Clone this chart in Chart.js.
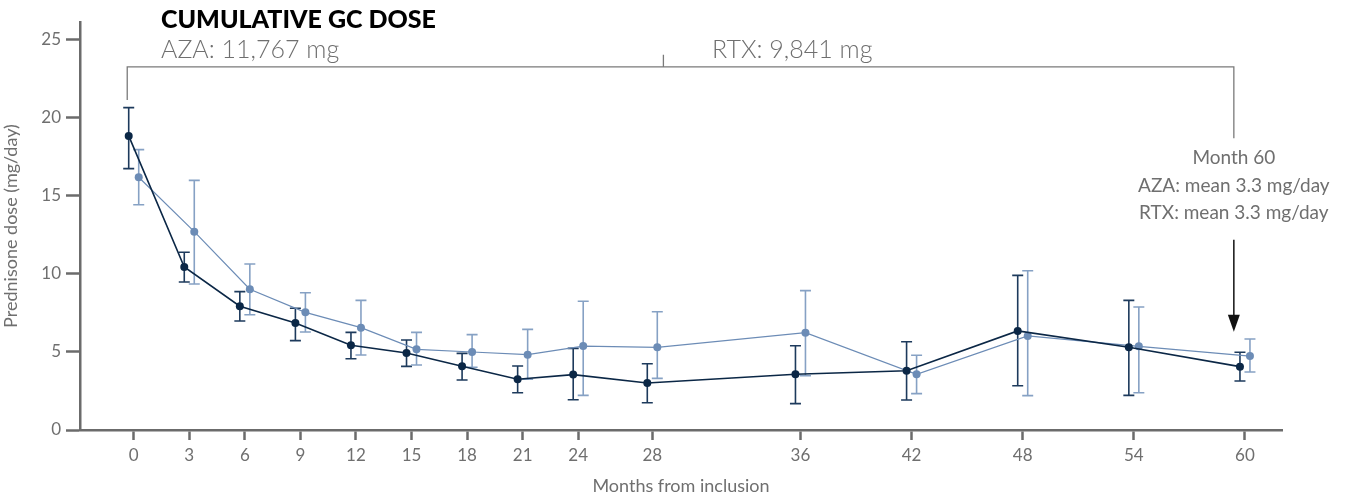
<!DOCTYPE html>
<html>
<head>
<meta charset="utf-8">
<script src="https://cdn.jsdelivr.net/npm/chart.js@4/dist/chart.umd.min.js"></script>
<style>
  html, body { margin: 0; padding: 0; background: #fff; }
  #wrap { width: 1346px; height: 497px; position: relative; }
</style>
</head>
<body>
<div id="wrap"><canvas id="chart"></canvas></div>
<script>
// ── Data ──────────────────────────────────────────────────
const months = [0, 3, 6, 9, 12, 15, 18, 21, 24, 28, 36, 42, 48, 54, 60];

const azaMean = [18.85, 10.45, 7.93, 6.86, 5.43, 4.94, 4.08, 3.25, 3.55, 3.01, 3.57, 3.80, 6.35, 5.30, 4.06];
const azaHigh = [20.66, 11.39, 8.87, 7.80, 6.26, 5.77, 4.91, 4.10, 5.23, 4.25, 5.40, 5.66, 9.91, 8.31, 4.98];
const azaLow  = [16.75, 9.49, 6.99, 5.73, 4.57, 4.08, 3.20, 2.39, 1.94, 1.75, 1.69, 1.92, 2.84, 2.22, 3.14];

const rtxMean = [16.20, 12.71, 9.02, 7.54, 6.56, 5.17, 5.00, 4.83, 5.38, 5.30, 6.24, 3.57, 6.03, 5.36, 4.74];
const rtxHigh = [17.97, 16.00, 10.64, 8.80, 8.31, 6.26, 6.11, 6.45, 8.25, 7.58, 8.93, 4.79, 10.21, 7.88, 5.83];
const rtxLow  = [14.44, 9.36, 7.39, 6.28, 4.81, 4.17, 4.02, 3.25, 2.22, 3.31, 3.48, 2.33, 2.20, 2.39, 3.72];

const xTicks = months;
const yTicks = [0, 5, 10, 15, 20, 25];

const titleText = 'CUMULATIVE GC DOSE';
const azaTotal = 'AZA: 11,767 mg';
const rtxTotal = 'RTX: 9,841 mg';
const noteLines = ['Month 60', 'AZA: mean 3.3 mg/day', 'RTX: mean 3.3 mg/day'];

// ── Styling ───────────────────────────────────────────────
const DODGE = 0.27;           // months, horizontal offset between the two groups
const AXIS = '#6b6b6b';
const TEXT = '#6f6f6f';
const AZA_COLOR = '#0b2746';
const AZA_BAR = '#1d3a5c';
const RTX_COLOR = '#6c8cb6';
const RTX_BAR = '#86a1c4';
const FONT = 'Lato, "Open Sans", sans-serif';

const toPoints = (vals, off) => vals.map((v, i) => ({ x: months[i] + off, y: v }));

// error bars drawn through the chart scales
const errorBars = {
    id: 'errorBars',
    beforeDatasetsDraw(chart) {
        const { ctx, scales: { x, y } } = chart;
        const sets = [
            { lo: azaLow, hi: azaHigh, off: -DODGE, color: AZA_BAR },
            { lo: rtxLow, hi: rtxHigh, off: DODGE, color: RTX_BAR }
        ];
        ctx.save();
        ctx.lineWidth = 1.6;
        sets.forEach(s => {
            ctx.strokeStyle = s.color;
            months.forEach((m, i) => {
                const px = x.getPixelForValue(m + s.off);
                const top = y.getPixelForValue(s.hi[i]);
                const bot = y.getPixelForValue(s.lo[i]);
                ctx.beginPath();
                ctx.moveTo(px, top); ctx.lineTo(px, bot);
                ctx.moveTo(px - 5.5, top); ctx.lineTo(px + 5.5, top);
                ctx.moveTo(px - 5.5, bot); ctx.lineTo(px + 5.5, bot);
                ctx.stroke();
            });
        });
        ctx.restore();
    }
};

// title, bracket and month-60 note
const annotations = {
    id: 'annotations',
    afterDraw(chart) {
        const { ctx, scales: { x, y } } = chart;
        ctx.save();

        ctx.fillStyle = '#000';
        ctx.font = `900 25px ${FONT}`;
        ctx.textBaseline = 'middle';
        ctx.textAlign = 'left';
        ctx.fillText(titleText, 161, 20);

        ctx.fillStyle = TEXT;
        ctx.font = `300 25px ${FONT}`;
        ctx.fillText(azaTotal, 161, 50);
        ctx.fillText(rtxTotal, 712, 50);

        // bracket
        const bx0 = x.getPixelForValue(-DODGE - 0.08);
        const bxm = x.getPixelForValue(28.6);
        const bx1 = x.getPixelForValue(59.4);
        const by = y.getPixelForValue(23.27);
        ctx.strokeStyle = '#7a7a7a';
        ctx.lineWidth = 1.3;
        ctx.beginPath();
        ctx.moveTo(bx0, y.getPixelForValue(21.15));
        ctx.lineTo(bx0, by);
        ctx.lineTo(bx1, by);
        ctx.lineTo(bx1, y.getPixelForValue(18.7));
        ctx.moveTo(bxm, by);
        ctx.lineTo(bxm, y.getPixelForValue(24.05));
        ctx.stroke();

        // note
        ctx.font = `19px ${FONT}`;
        ctx.textAlign = 'center';
        ctx.fillStyle = TEXT;
        noteLines.forEach((t, i) => ctx.fillText(t, bx1, 158 + i * 27.5));

        // arrow
        const a0 = y.getPixelForValue(12.2);
        const a1 = y.getPixelForValue(6.3);
        ctx.strokeStyle = '#111';
        ctx.fillStyle = '#111';
        ctx.lineWidth = 1.5;
        ctx.beginPath();
        ctx.moveTo(bx1, a0);
        ctx.lineTo(bx1, a1 - 14);
        ctx.stroke();
        ctx.beginPath();
        ctx.moveTo(bx1 - 6, a1 - 17);
        ctx.lineTo(bx1 + 6, a1 - 17);
        ctx.lineTo(bx1, a1);
        ctx.closePath();
        ctx.fill();

        ctx.restore();
    }
};

new Chart(document.getElementById('chart'), {
    type: 'line',
    data: {
        datasets: [
            {
                label: 'AZA',
                data: toPoints(azaMean, -DODGE),
                borderColor: AZA_COLOR,
                backgroundColor: AZA_COLOR,
                borderWidth: 1.6,
                pointRadius: 4,
                pointBorderWidth: 0,
                tension: 0
            },
            {
                label: 'RTX',
                data: toPoints(rtxMean, DODGE),
                borderColor: RTX_COLOR,
                backgroundColor: RTX_COLOR,
                borderWidth: 1.2,
                pointRadius: 4,
                pointBorderWidth: 0,
                tension: 0
            }
        ]
    },
    options: {
        responsive: true,
        maintainAspectRatio: false,
        animation: false,
        layout: { padding: { top: 22, right: 64, left: 0, bottom: 0 } },
        plugins: {
            legend: { display: false },
            tooltip: { enabled: false }
        },
        scales: {
            x: {
                type: 'linear',
                min: -2.9,
                max: 62,
                afterBuildTicks: s => { s.ticks = xTicks.map(v => ({ value: v })); },
                afterFit: s => { s.height = 67; },
                grid: { drawOnChartArea: false, drawTicks: true, tickLength: 10, tickColor: AXIS, tickWidth: 2.5 },
                border: { color: AXIS, width: 2.5 },
                ticks: { color: TEXT, font: { family: FONT, size: 17 }, padding: 5, maxRotation: 0, autoSkip: false },
                title: { display: true, text: 'Months from inclusion', color: TEXT, font: { family: FONT, size: 18 }, padding: { top: 0, bottom: 0 } }
            },
            y: {
                min: 0,
                max: 26.15,
                afterBuildTicks: s => { s.ticks = yTicks.map(v => ({ value: v })); },
                afterFit: s => { s.width = 80; },
                grid: { drawOnChartArea: false, drawTicks: true, tickLength: 14, tickColor: AXIS, tickWidth: 2.5 },
                border: { color: AXIS, width: 2.5 },
                ticks: { color: TEXT, font: { family: FONT, size: 17 }, padding: 5 },
                title: { display: true, text: 'Prednisone dose (mg/day)', color: TEXT, font: { family: FONT, size: 18 }, padding: { top: 0, bottom: 0 } }
            }
        }
    },
    plugins: [errorBars, annotations]
});
</script>
</body>
</html>
